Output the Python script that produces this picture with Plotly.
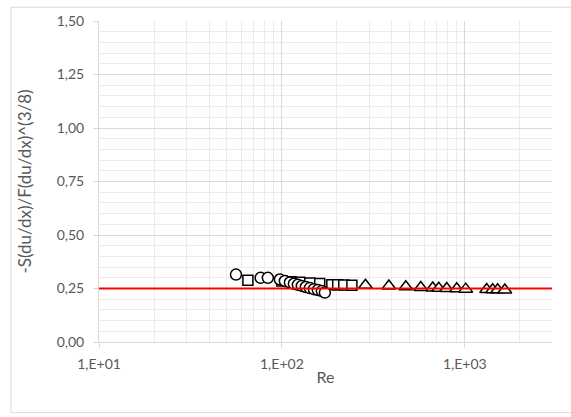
import plotly.graph_objects as go

# Reynolds number and normalised skewness for three data sets
re_circles = [56.1, 76.5, 83.8, 97.5, 103.8, 110.6, 116.3, 122.3, 128.5, 135.2,
              142.2, 149.6, 157.3, 165.4, 171.8]
s_circles = [0.315, 0.300, 0.300, 0.292, 0.285, 0.278, 0.272, 0.267, 0.262, 0.257,
             0.252, 0.247, 0.243, 0.238, 0.231]

re_squares = [65.2, 100.0, 112.0, 125.4, 142.0, 161.0, 187.5, 202.0, 218.0, 241.5]
s_squares = [0.289, 0.285, 0.282, 0.279, 0.276, 0.273, 0.268, 0.267, 0.266, 0.265]

re_triangles = [286.5, 384.6, 476.0, 575.0, 668.0, 721.0, 797.0, 904.0, 1012.0,
                1318.0, 1421.0, 1514.0, 1656.0]
s_triangles = [0.265, 0.262, 0.258, 0.255, 0.252, 0.251, 0.250, 0.249, 0.247,
               0.245, 0.244, 0.244, 0.243]

# reference level
ref_re = [10, 3000]
ref_s = [0.25, 0.25]

x_tickvals = [10, 100, 1000]
x_ticktext = ["1,E+01", "1,E+02", "1,E+03"]

grey_text = "#595959"
font_family = "Lato, 'Liberation Sans', sans-serif"

marker_line = dict(color="black", width=1.5)

fig = go.Figure()
fig.add_trace(go.Scatter(x=re_triangles, y=s_triangles, mode="markers",
                         marker=dict(symbol="triangle-up", size=12, color="white", line=marker_line)))
fig.add_trace(go.Scatter(x=re_squares, y=s_squares, mode="markers",
                         marker=dict(symbol="square", size=10, color="white", line=marker_line)))
fig.add_trace(go.Scatter(x=re_circles, y=s_circles, mode="markers",
                         marker=dict(symbol="circle", size=11, color="white", line=marker_line)))
fig.add_trace(go.Scatter(x=ref_re, y=ref_s, mode="lines",
                         line=dict(color="#ff0000", width=2)))

fig.update_layout(
    width=571, height=417,
    margin=dict(l=99, r=19, t=15, b=75),
    paper_bgcolor="white", plot_bgcolor="white",
    showlegend=False,
    separators=",.",
    font=dict(family=font_family, color=grey_text, size=14),
    xaxis=dict(
        type="log", range=[1, 3.4771],
        tickvals=x_tickvals, ticktext=x_ticktext,
        showgrid=True, gridcolor="#d9d9d9", gridwidth=1,
        minor=dict(dtick="D1", showgrid=True, gridcolor="#ebebeb", ticks=""),
        showline=True, linecolor="#d9d9d9", linewidth=1,
        ticks="outside", ticklen=5, tickcolor="#d9d9d9",
        ticklabelstandoff=4,
        zeroline=False,
        title=dict(text="Re", font=dict(size=16, color=grey_text), standoff=1),
        tickfont=dict(size=14, color=grey_text),
    ),
    yaxis=dict(
        range=[0, 1.5], tick0=0, dtick=0.25, tickformat=".2f",
        showgrid=True, gridcolor="#d9d9d9", gridwidth=1,
        minor=dict(dtick=0.05, showgrid=True, gridcolor="#ebebeb", ticks=""),
        showline=True, linecolor="#d9d9d9", linewidth=1,
        ticks="outside", ticklen=5, tickcolor="#d9d9d9",
        ticklabelstandoff=6,
        zeroline=False,
        title=dict(text="-S(du/dx)/F(du/dx)^(3/8)", font=dict(size=17, color=grey_text), standoff=20),
        tickfont=dict(size=14, color=grey_text),
    ),
    shapes=[dict(type="rect", xref="paper", yref="paper",
                 x0=-0.1943, x1=1.05, y0=-0.2202, y1=1.0428,
                 line=dict(color="#d9d9d9", width=1), layer="below")],
)

fig.write_html("out.html")
